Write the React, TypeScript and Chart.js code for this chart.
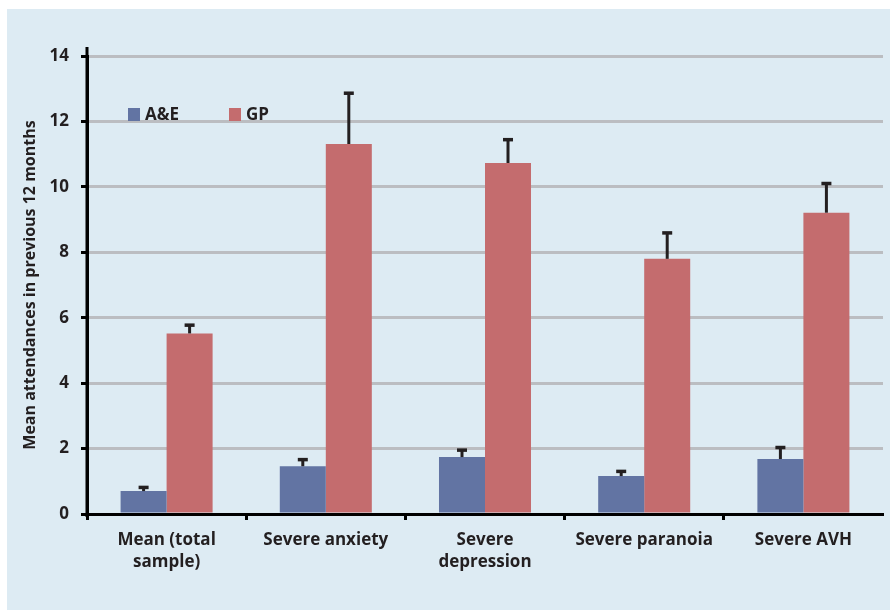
import React, { useEffect, useRef } from "react";
import { Chart, registerables } from "chart.js";

Chart.register(...registerables);

const categories: (string | string[])[] = [
  ["Mean (total", "sample)"],
  "Severe anxiety",
  ["Severe", "depression"],
  "Severe paranoia",
  "Severe AVH",
];
const aeValues = [0.7, 1.46, 1.74, 1.16, 1.68];
const aeErrors = [0.12, 0.21, 0.22, 0.15, 0.36];
const gpValues = [5.52, 11.31, 10.73, 7.8, 9.21];
const gpErrors = [0.26, 1.56, 0.72, 0.8, 0.9];
const yTickValues = [0, 2, 4, 6, 8, 10, 12, 14];
const seriesLabels = ["A&E", "GP"];
const yTitle = "Mean attendances in previous 12 months";

const AE_COLOR = "#6274a3";
const GP_COLOR = "#c46c6e";
const TEXT = "#231f20";
const FONT = "'Open Sans'";

const errorBarPlugin = {
  id: "errorBars",
  afterDatasetsDraw(chart: any) {
    const ctx = chart.ctx;
    const yScale = chart.scales.y;
    ctx.save();
    ctx.strokeStyle = TEXT;
    ctx.fillStyle = TEXT;
    chart.data.datasets.forEach((ds: any, di: number) => {
      const meta = chart.getDatasetMeta(di);
      const errs: number[] = ds.errors || [];
      meta.data.forEach((el: any, i: number) => {
        const v = ds.data[i];
        const top = yScale.getPixelForValue(v + errs[i]);
        const x = el.x;
        ctx.lineWidth = 3;
        ctx.beginPath();
        ctx.moveTo(x, el.y);
        ctx.lineTo(x, top);
        ctx.stroke();
        ctx.fillRect(x - 5, top - 1.5, 10, 3.5);
      });
    });
    ctx.restore();
  },
};

const legendPlugin = {
  id: "insideLegend",
  afterDraw(chart: any) {
    const ctx = chart.ctx;
    const a = chart.chartArea;
    const positions = [a.left + 41, a.left + 142];
    ctx.save();
    ctx.font = `bold 17px ${FONT}`;
    ctx.textBaseline = "middle";
    ctx.textAlign = "left";
    chart.data.datasets.forEach((ds: any, i: number) => {
      const x = positions[i];
      const y = a.top + 52;
      ctx.fillStyle = ds.backgroundColor;
      ctx.fillRect(x, y, 12, 13);
      ctx.fillStyle = TEXT;
      ctx.fillText(ds.label, x + 17, y + 7);
    });
    ctx.restore();
  },
};

const axisExtendPlugin = {
  id: "axisExtend",
  afterDraw(chart: any) {
    const ctx = chart.ctx;
    const a = chart.chartArea;
    ctx.save();
    ctx.strokeStyle = "#000";
    ctx.lineWidth = 3;
    ctx.beginPath();
    ctx.moveTo(a.left, a.top - 9);
    ctx.lineTo(a.left, a.bottom + 3);
    ctx.stroke();
    ctx.restore();
  },
};

export default function App() {
  const ref = useRef<HTMLCanvasElement>(null);
  useEffect(() => {
    if (!ref.current) return;
    const chart = new Chart(ref.current, {
      type: "bar",
      data: {
        labels: categories,
        datasets: [
          {
            label: seriesLabels[0],
            data: aeValues,
            backgroundColor: AE_COLOR,
            errors: aeErrors,
          } as any,
          {
            label: seriesLabels[1],
            data: gpValues,
            backgroundColor: GP_COLOR,
            errors: gpErrors,
          } as any,
        ],
      },
      options: {
        responsive: false,
        animation: false,
        devicePixelRatio: 1,
        layout: { padding: { top: 47, right: 7, left: 10, bottom: 0 } },
        datasets: {
          bar: { categoryPercentage: 0.578, barPercentage: 1.0 },
        },
        plugins: {
          legend: { display: false },
          tooltip: { enabled: false },
        },
        scales: {
          x: {
            afterFit: (s: any) => {
              s.height = 96;
            },
            grid: {
              offset: true,
              drawOnChartArea: false,
              tickLength: 6,
              tickWidth: 3,
              tickColor: (c: any) => (c.type === "tick" ? "#000" : "rgba(0,0,0,0)"),
            },
            border: { color: "#000", width: 3 },
            ticks: {
              color: TEXT,
              font: { family: FONT, size: 17, weight: "bold", lineHeight: 1.3 },
              padding: 9,
              maxRotation: 0,
              autoSkip: false,
            },
          },
          y: {
            min: 0,
            max: 14,
            afterBuildTicks: (s: any) => {
              s.ticks = yTickValues.map((value) => ({ value }));
            },
            afterFit: (s: any) => {
              s.width = 70;
            },
            grid: {
              color: "#bbbdc1",
              lineWidth: 3,
              tickLength: 6,
              tickWidth: 3,
              tickColor: "#000",
            },
            border: { color: "#000", width: 3 },
            ticks: {
              color: TEXT,
              font: { family: FONT, size: 17, weight: "bold" },
              padding: 12,
            },
            title: {
              display: true,
              text: yTitle,
              color: TEXT,
              font: { family: FONT, size: 16, weight: "bold" },
              padding: { top: 4, bottom: 4 },
            },
          },
        },
      },
      plugins: [errorBarPlugin, legendPlugin, axisExtendPlugin],
    });
    return () => chart.destroy();
  }, []);

  return (
    <div
      style={{
        position: "absolute",
        left: 0,
        top: 0,
        width: 890,
        height: 610,
        background: "#ffffff",
      }}
    >
      <canvas
        ref={ref}
        width={883}
        height={601}
        style={{
          position: "absolute",
          left: 7,
          top: 9,
          width: 883,
          height: 601,
          background: "#ddebf3",
        }}
      />
    </div>
  );
}
